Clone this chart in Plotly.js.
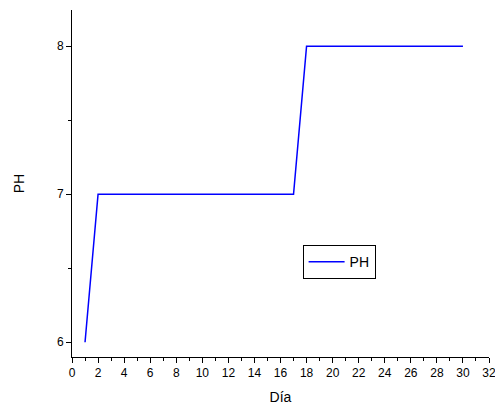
<!DOCTYPE html>
<html><head><meta charset="utf-8">
<script src="https://cdn.plot.ly/plotly-3.0.1.min.js"></script>
<style>html,body{margin:0;padding:0;background:#fff}#c{width:495px;height:411px}</style>
</head><body><div id="c"></div>
<script>
const dias = [1,2,3,4,5,6,7,8,9,10,11,12,13,14,15,16,17,18,19,20,21,22,23,24,25,26,27,28,29,30];
const ph = [6,7,7,7,7,7,7,7,7,7,7,7,7,7,7,7,7,8,8,8,8,8,8,8,8,8,8,8,8,8];
const xTicks = [0,2,4,6,8,10,12,14,16,18,20,22,24,26,28,30,32];
const yTicks = [6,7,8];

Plotly.newPlot('c', [{
  x: dias, y: ph, type: 'scatter', mode: 'lines', name: 'PH',
  line: {color: '#0000ff', width: 1.5}
}], {
  width: 495, height: 411,
  margin: {l: 72, r: 6, t: 10, b: 54},
  paper_bgcolor: '#fff', plot_bgcolor: '#fff',
  font: {family: 'Liberation Sans, Arial, sans-serif', size: 12, color: '#000'},
  showlegend: true,
  legend: {x: 0.553, y: 0.322, xanchor: 'left', yanchor: 'top', bordercolor: '#000', borderwidth: 1,
           bgcolor: '#fff', font: {size: 14}, itemwidth: 36, tracegroupgap: 0},
  xaxis: {
    range: [0, 32], tickvals: xTicks, ticktext: xTicks.map(String),
    showgrid: false, zeroline: false, showline: true, linecolor: '#000', linewidth: 1,
    ticks: 'outside', ticklen: 5, tickcolor: '#000', tickfont: {size: 12},
    ticklabeloverflow: 'allow',
    minor: {dtick: 1, ticks: 'outside', ticklen: 3, tickcolor: '#000', showgrid: false},
    title: {text: 'Día', font: {size: 14}, standoff: 12}
  },
  yaxis: {
    range: [5.9, 8.245], tickvals: yTicks, ticktext: yTicks.map(String),
    showgrid: false, zeroline: false, showline: true, linecolor: '#000', linewidth: 1,
    ticks: 'outside', ticklen: 5, tickcolor: '#000', tickfont: {size: 12},
    minor: {dtick: 0.5, ticks: 'outside', ticklen: 3, tickcolor: '#000', showgrid: false},
    title: {text: 'PH', font: {size: 14}, standoff: 29}
  }
}, {displayModeBar: false, staticPlot: true});
</script></body></html>
